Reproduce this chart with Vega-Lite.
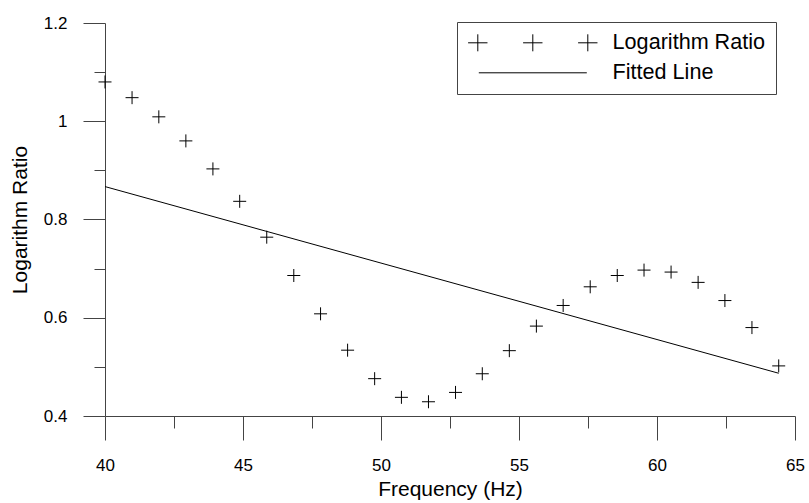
{
  "$schema": "https://vega.github.io/schema/vega-lite/v6.json",
  "width": 690,
  "height": 393,
  "autosize": "none",
  "padding": {"left": 105, "top": 23, "right": 14, "bottom": 87},
  "background": "white",
  "config": {
    "view": {"stroke": null},
    "font": "Liberation Sans"
  },
  "data": {
    "values": [
      {"series": "Logarithm Ratio", "freq": 40.00, "ratio": 1.080},
      {"series": "Logarithm Ratio", "freq": 40.98, "ratio": 1.048},
      {"series": "Logarithm Ratio", "freq": 41.95, "ratio": 1.009},
      {"series": "Logarithm Ratio", "freq": 42.93, "ratio": 0.960},
      {"series": "Logarithm Ratio", "freq": 43.91, "ratio": 0.903},
      {"series": "Logarithm Ratio", "freq": 44.88, "ratio": 0.837},
      {"series": "Logarithm Ratio", "freq": 45.86, "ratio": 0.764},
      {"series": "Logarithm Ratio", "freq": 46.84, "ratio": 0.686},
      {"series": "Logarithm Ratio", "freq": 47.81, "ratio": 0.608},
      {"series": "Logarithm Ratio", "freq": 48.79, "ratio": 0.534},
      {"series": "Logarithm Ratio", "freq": 49.77, "ratio": 0.476},
      {"series": "Logarithm Ratio", "freq": 50.74, "ratio": 0.438},
      {"series": "Logarithm Ratio", "freq": 51.72, "ratio": 0.429},
      {"series": "Logarithm Ratio", "freq": 52.70, "ratio": 0.448},
      {"series": "Logarithm Ratio", "freq": 53.67, "ratio": 0.486},
      {"series": "Logarithm Ratio", "freq": 54.65, "ratio": 0.533},
      {"series": "Logarithm Ratio", "freq": 55.63, "ratio": 0.583},
      {"series": "Logarithm Ratio", "freq": 56.60, "ratio": 0.625},
      {"series": "Logarithm Ratio", "freq": 57.58, "ratio": 0.663},
      {"series": "Logarithm Ratio", "freq": 58.56, "ratio": 0.686},
      {"series": "Logarithm Ratio", "freq": 59.53, "ratio": 0.697},
      {"series": "Logarithm Ratio", "freq": 60.51, "ratio": 0.693},
      {"series": "Logarithm Ratio", "freq": 61.49, "ratio": 0.672},
      {"series": "Logarithm Ratio", "freq": 62.46, "ratio": 0.635},
      {"series": "Logarithm Ratio", "freq": 63.44, "ratio": 0.580},
      {"series": "Logarithm Ratio", "freq": 64.41, "ratio": 0.502},
      {"series": "Fitted Line", "freq": 40.00, "ratio": 0.867},
      {"series": "Fitted Line", "freq": 64.41, "ratio": 0.487}
    ]
  },
  "encoding": {
    "x": {
      "field": "freq",
      "type": "quantitative",
      "scale": {"domain": [40, 65], "nice": false, "zero": false},
      "axis": {
        "title": "Frequency (Hz)",
        "values": [40, 42.5, 45, 47.5, 50, 52.5, 55, 57.5, 60, 62.5, 65],
        "labelExpr": "datum.value % 5 === 0 ? datum.label : ''",
        "tickSize": {"condition": {"test": "datum.value % 5 === 0", "value": 24}, "value": 12},
        "labelPadding": 17,
        "labelFlush": false,
        "labelOverlap": false,
        "grid": false,
        "domainColor": "#444444",
        "tickColor": "#444444",
        "labelFont": "Liberation Sans",
        "labelFontSize": 17,
        "labelColor": "black",
        "titleFont": "Liberation Sans",
        "titleFontSize": 21,
        "titleFontWeight": "normal",
        "titleColor": "black",
        "titlePadding": 5
      }
    },
    "y": {
      "field": "ratio",
      "type": "quantitative",
      "scale": {"domain": [0.4, 1.2], "nice": false, "zero": false},
      "axis": {
        "title": "Logarithm Ratio",
        "values": [0.4, 0.5, 0.6, 0.7, 0.8, 0.9, 1, 1.1, 1.2],
        "format": "~g",
        "labelExpr": "round(datum.value * 10) % 2 === 0 ? datum.label : ''",
        "tickSize": {"condition": {"test": "round(datum.value * 10) % 2 === 0", "value": 22}, "value": 11},
        "labelPadding": 16,
        "labelFlush": false,
        "labelOverlap": false,
        "grid": false,
        "domainColor": "#444444",
        "tickColor": "#444444",
        "labelFont": "Liberation Sans",
        "labelFontSize": 17,
        "labelColor": "black",
        "titleFont": "Liberation Sans",
        "titleFontSize": 21,
        "titleFontWeight": "normal",
        "titleColor": "black",
        "titlePadding": 13
      }
    },
    "stroke": {
      "field": "series",
      "type": "nominal",
      "scale": {"domain": ["Logarithm Ratio", "Fitted Line"], "range": ["black", "black"]},
      "legend": {
        "title": null,
        "orient": "none",
        "legendX": 352,
        "legendY": -1,
        "padding": 10,
        "strokeColor": "#444444",
        "fillColor": "white",
        "symbolSize": 400,
        "symbolOffset": 55,
        "labelOffset": 69,
        "rowPadding": 7,
        "labelFont": "Liberation Sans",
        "labelFontSize": 21.6,
        "labelColor": "black",
        "symbolStrokeWidth": 1,
        "encode": {
          "symbols": {
            "update": {
              "shape": {"signal": "datum.value === 'Fitted Line' ? 'M-5.4,0H5.4' : 'M-6.47,0H-4.53M-5.5,-0.85V0.85M-0.97,0H0.97M0,-0.85V0.85M4.53,0H6.47M5.5,-0.85V0.85'"},
              "fill": {"value": "transparent"},
              "stroke": {"value": "black"},
              "strokeWidth": {"value": 1},
              "opacity": {"value": 1}
            }
          }
        }
      }
    }
  },
  "layer": [
    {
      "transform": [{"filter": "datum.series === 'Logarithm Ratio'"}],
      "mark": {"type": "point", "shape": "M-1,0H1M0,-1V1", "size": 169, "filled": false, "strokeWidth": 1, "opacity": 1}
    },
    {
      "transform": [{"filter": "datum.series === 'Fitted Line'"}],
      "mark": {"type": "line", "strokeWidth": 1}
    }
  ]
}
